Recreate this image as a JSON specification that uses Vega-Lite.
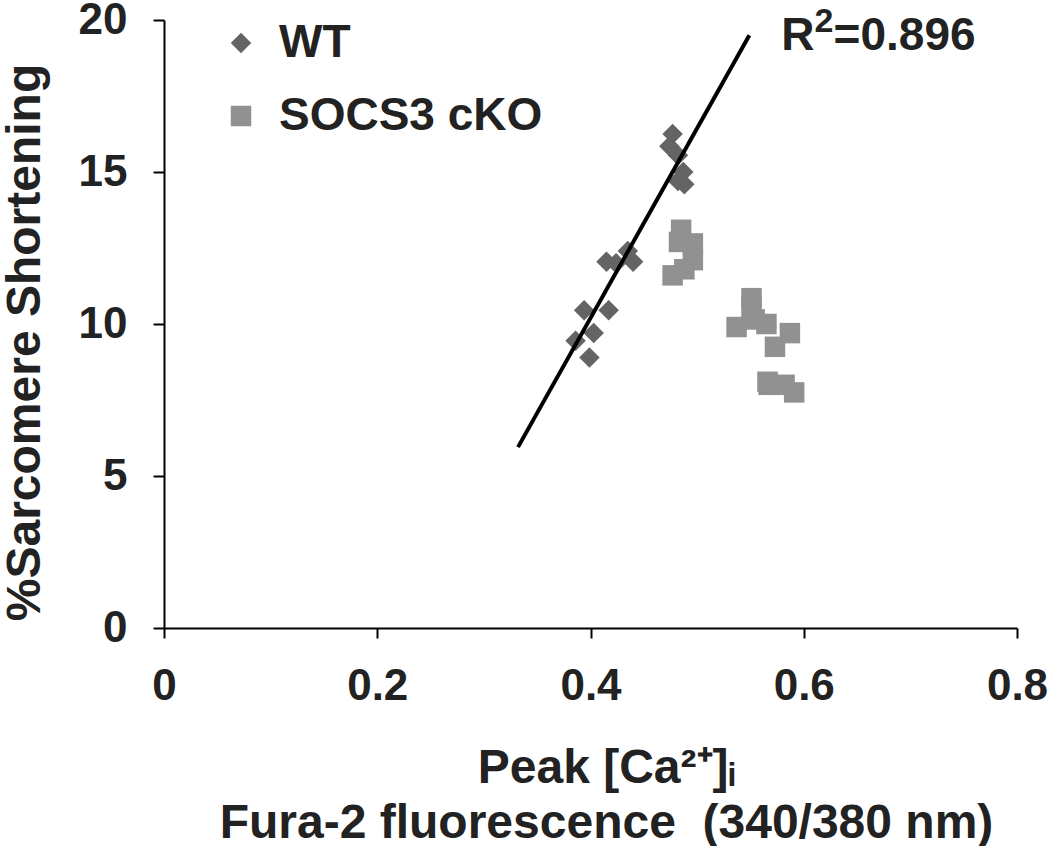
{
  "$schema": "https://vega.github.io/schema/vega-lite/v6.json",
  "autosize": {"type": "none"},
  "width": 853,
  "height": 608,
  "padding": {"left": 164, "top": 20, "right": 33, "bottom": 218},
  "background": "white",
  "config": {
    "view": {"stroke": null},
    "font": "Liberation Sans",
    "axis": {"grid": false, "domainColor": "black", "domainWidth": 2, "tickColor": "black", "tickWidth": 2, "labelFont": "Liberation Sans", "labelFontWeight": "bold", "labelColor": "#222222", "titleFont": "Liberation Sans", "titleFontWeight": "bold", "titleColor": "#222222"}
  },
  "datasets": {
    "points": [
      {"ca": 0.477, "shortening": 16.25, "group": "WT"},
      {"ca": 0.474, "shortening": 15.85, "group": "WT"},
      {"ca": 0.482, "shortening": 15.55, "group": "WT"},
      {"ca": 0.487, "shortening": 15.0, "group": "WT"},
      {"ca": 0.482, "shortening": 14.7, "group": "WT"},
      {"ca": 0.488, "shortening": 14.6, "group": "WT"},
      {"ca": 0.415, "shortening": 12.05, "group": "WT"},
      {"ca": 0.424, "shortening": 12.0, "group": "WT"},
      {"ca": 0.435, "shortening": 12.4, "group": "WT"},
      {"ca": 0.440, "shortening": 12.05, "group": "WT"},
      {"ca": 0.394, "shortening": 10.45, "group": "WT"},
      {"ca": 0.417, "shortening": 10.45, "group": "WT"},
      {"ca": 0.386, "shortening": 9.45, "group": "WT"},
      {"ca": 0.403, "shortening": 9.7, "group": "WT"},
      {"ca": 0.399, "shortening": 8.9, "group": "WT"},
      {"ca": 0.485, "shortening": 13.1, "group": "SOCS3 cKO"},
      {"ca": 0.483, "shortening": 12.7, "group": "SOCS3 cKO"},
      {"ca": 0.496, "shortening": 12.65, "group": "SOCS3 cKO"},
      {"ca": 0.496, "shortening": 12.1, "group": "SOCS3 cKO"},
      {"ca": 0.488, "shortening": 11.8, "group": "SOCS3 cKO"},
      {"ca": 0.477, "shortening": 11.6, "group": "SOCS3 cKO"},
      {"ca": 0.551, "shortening": 10.85, "group": "SOCS3 cKO"},
      {"ca": 0.551, "shortening": 10.55, "group": "SOCS3 cKO"},
      {"ca": 0.554, "shortening": 10.15, "group": "SOCS3 cKO"},
      {"ca": 0.537, "shortening": 9.9, "group": "SOCS3 cKO"},
      {"ca": 0.565, "shortening": 10.0, "group": "SOCS3 cKO"},
      {"ca": 0.587, "shortening": 9.7, "group": "SOCS3 cKO"},
      {"ca": 0.573, "shortening": 9.25, "group": "SOCS3 cKO"},
      {"ca": 0.566, "shortening": 8.1, "group": "SOCS3 cKO"},
      {"ca": 0.567, "shortening": 8.0, "group": "SOCS3 cKO"},
      {"ca": 0.582, "shortening": 8.0, "group": "SOCS3 cKO"},
      {"ca": 0.591, "shortening": 7.75, "group": "SOCS3 cKO"}
    ],
    "fit": [
      {"ca": 0.332, "shortening": 5.95},
      {"ca": 0.549, "shortening": 19.5}
    ],
    "note": [
      {"ca": 0.579, "shortening": 19.01, "label": "R", "part": "main"},
      {"ca": 0.610, "shortening": 19.6, "label": "2", "part": "sup"},
      {"ca": 0.628, "shortening": 19.01, "label": "=0.896", "part": "main"}
    ]
  },
  "layer": [
    {
      "data": {"name": "points"},
      "mark": {"type": "point", "filled": true, "opacity": 1, "size": 420},
      "encoding": {
        "x": {"field": "ca", "type": "quantitative", "scale": {"domain": [0, 0.8], "nice": false},
          "axis": {"values": [0, 0.2, 0.4, 0.6, 0.8], "labelExpr": "datum.value == 0 ? '0' : format(datum.value, '.1f')", "labelFontSize": 44, "tickSize": 10, "labelPadding": 26, "labelFlush": false, "labelOverlap": false,
            "title": ["Peak [Ca²⁺]ᵢ", "Fura-2 fluorescence \u00a0(340/380 nm)"], "titleFontSize": 48, "titleLineHeight": 55, "titleBaseline": "alphabetic", "titleX": 442, "titleY": 154, "titleAnchor": "middle"}},
        "y": {"field": "shortening", "type": "quantitative", "scale": {"domain": [0, 20], "nice": false},
          "axis": {"values": [0, 5, 10, 15, 20], "labelFontSize": 44, "tickSize": 11, "labelPadding": 26, "labelFlush": false, "labelOverlap": false,
            "title": "%Sarcomere Shortening", "titleFontSize": 48, "titleAngle": -90, "titleBaseline": "alphabetic", "titleX": -125, "titleY": 322, "titleAnchor": "middle"}},
        "color": {"field": "group", "type": "nominal", "scale": {"domain": ["WT", "SOCS3 cKO"], "range": ["#646464", "#919191"]},
          "legend": {"orient": "none", "legendX": 54, "legendY": 0, "title": null, "labelFontSize": 46, "labelFont": "Liberation Sans", "labelFontWeight": "bold", "labelColor": "#222222", "labelLimit": 500, "symbolSize": 420, "rowPadding": 27, "labelOffset": 15, "symbolStrokeWidth": 0}},
        "shape": {"field": "group", "type": "nominal", "scale": {"domain": ["WT", "SOCS3 cKO"], "range": ["diamond", "square"]}}
      }
    },
    {
      "data": {"name": "fit"},
      "mark": {"type": "line", "color": "black", "strokeWidth": 4},
      "encoding": {
        "x": {"field": "ca", "type": "quantitative"},
        "y": {"field": "shortening", "type": "quantitative"}
      }
    },
    {
      "data": {"name": "note"},
      "transform": [{"filter": "datum.part == 'main'"}],
      "mark": {"type": "text", "align": "left", "baseline": "alphabetic", "fontSize": 46, "fontWeight": "bold", "font": "Liberation Sans", "color": "#222222"},
      "encoding": {
        "x": {"field": "ca", "type": "quantitative"},
        "y": {"field": "shortening", "type": "quantitative"},
        "text": {"field": "label"}
      }
    },
    {
      "data": {"name": "note"},
      "transform": [{"filter": "datum.part == 'sup'"}],
      "mark": {"type": "text", "align": "left", "baseline": "alphabetic", "fontSize": 34, "fontWeight": "bold", "font": "Liberation Sans", "color": "#222222"},
      "encoding": {
        "x": {"field": "ca", "type": "quantitative"},
        "y": {"field": "shortening", "type": "quantitative"},
        "text": {"field": "label"}
      }
    }
  ]
}
